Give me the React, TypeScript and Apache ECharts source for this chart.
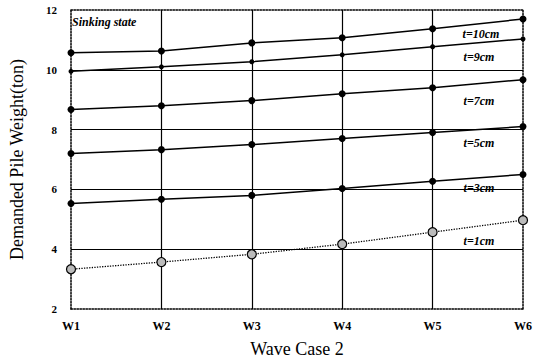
import React, { useEffect, useRef } from "react";
import * as echarts from "echarts";

const categories = ["W1", "W2", "W3", "W4", "W5", "W6"];
const t10 = [10.57, 10.63, 10.9, 11.07, 11.37, 11.7];
const t9 = [9.95, 10.1, 10.27, 10.5, 10.77, 11.03];
const t7 = [8.67, 8.8, 8.97, 9.2, 9.4, 9.67];
const t5 = [7.2, 7.33, 7.5, 7.7, 7.9, 8.1];
const t3 = [5.53, 5.67, 5.8, 6.03, 6.27, 6.5];
const t1 = [3.33, 3.57, 3.83, 4.17, 4.57, 4.97];
const gridValues = [4, 6, 8, 10];
const seriesLabels = [
  { text: "t=10cm", x: 481, y: 34 },
  { text: "t=9cm", x: 479, y: 57 },
  { text: "t=7cm", x: 479, y: 101 },
  { text: "t=5cm", x: 479, y: 143 },
  { text: "t=3cm", x: 479, y: 188 },
  { text: "t=1cm", x: 479, y: 241 },
];

const FONT = "'Liberation Serif', 'Times New Roman', 'DejaVu Serif', serif";

export default function App() {
  const ref = useRef<HTMLDivElement>(null);
  useEffect(() => {
    const chart = echarts.init(ref.current!, undefined, { renderer: "svg" });
    const mkSeries = (name: string, data: number[], opts: any = {}) => ({
      name,
      type: "line",
      data,
      symbol: "circle",
      symbolSize: 7,
      lineStyle: { color: "#000", width: 1.5 },
      itemStyle: { color: "#000" },
      ...opts,
    });
    chart.setOption({
      animation: false,
      backgroundColor: "#fff",
      grid: { left: 67, right: 15, top: 10, bottom: 53 },
      xAxis: [
        {
          type: "category",
          data: categories,
          boundaryGap: false,
          axisLine: { lineStyle: { color: "#000", type: "dotted", width: 1.5 } },
          axisTick: { show: false },
          axisLabel: { fontFamily: FONT, fontWeight: "bold", fontSize: 12, color: "#000", margin: 11 },
          splitLine: {
            show: true,
            interval: (i: number) => i > 0 && i < 5,
            lineStyle: { color: "#000", width: 1.2 },
          },
          name: "Wave Case 2",
          nameLocation: "middle",
          nameGap: 31,
          nameTextStyle: { fontFamily: FONT, fontSize: 18, color: "#000" },
        },
        {
          type: "category",
          data: categories,
          boundaryGap: false,
          position: "top",
          axisLine: { lineStyle: { color: "#000", type: "dotted", width: 1.5 } },
          axisTick: { show: false },
          axisLabel: { show: false },
          splitLine: { show: false },
        },
      ],
      yAxis: [
        {
          type: "value",
          min: 2,
          max: 12,
          interval: 2,
          axisLine: { show: true, lineStyle: { color: "#000", type: "dotted", width: 1.5 } },
          axisTick: { show: false },
          splitLine: { show: false },
          axisLabel: { fontFamily: FONT, fontWeight: "bold", fontSize: 11, color: "#000", margin: 14 },
          name: "Demanded Pile Weight(ton)",
          nameLocation: "middle",
          nameGap: 45,
          nameTextStyle: { fontFamily: FONT, fontSize: 18, color: "#000" },
        },
        {
          type: "value",
          min: 2,
          max: 12,
          interval: 2,
          position: "right",
          axisLine: { show: true, lineStyle: { color: "#000", type: "dotted", width: 1.5 } },
          axisTick: { show: false },
          splitLine: { show: false },
          axisLabel: { show: false },
        },
      ],
      series: [
        mkSeries("t=10cm", t10, {
          markLine: {
            silent: true,
            symbol: "none",
            label: { show: false },
            lineStyle: { color: "#000", type: "solid", width: 1.2 },
            data: gridValues.map((v) => ({ yAxis: v })),
          },
        }),
        mkSeries("t=9cm", t9, { symbolSize: 5 }),
        mkSeries("t=7cm", t7),
        mkSeries("t=5cm", t5),
        mkSeries("t=3cm", t3),
        mkSeries("t=1cm", t1, {
          symbolSize: 9,
          lineStyle: { color: "#000", width: 1.3, type: "dotted" },
          itemStyle: { color: "#bbb", borderColor: "#000", borderWidth: 1.2 },
        }),
      ],
      graphic: [
        {
          type: "text",
          left: 72,
          top: 16,
          style: { text: "Sinking state", font: `italic bold 12px ${FONT}`, fill: "#000" },
        },
        ...seriesLabels.map((l) => ({
          type: "text",
          x: l.x,
          y: l.y,
          style: {
            text: l.text,
            font: `italic bold 12px ${FONT}`,
            fill: "#000",
            align: "center",
            verticalAlign: "middle",
          },
        })),
      ],
    });
    return () => chart.dispose();
  }, []);
  return <div ref={ref} style={{ width: 538, height: 363, position: "absolute", left: 0, top: 0 }} />;
}
